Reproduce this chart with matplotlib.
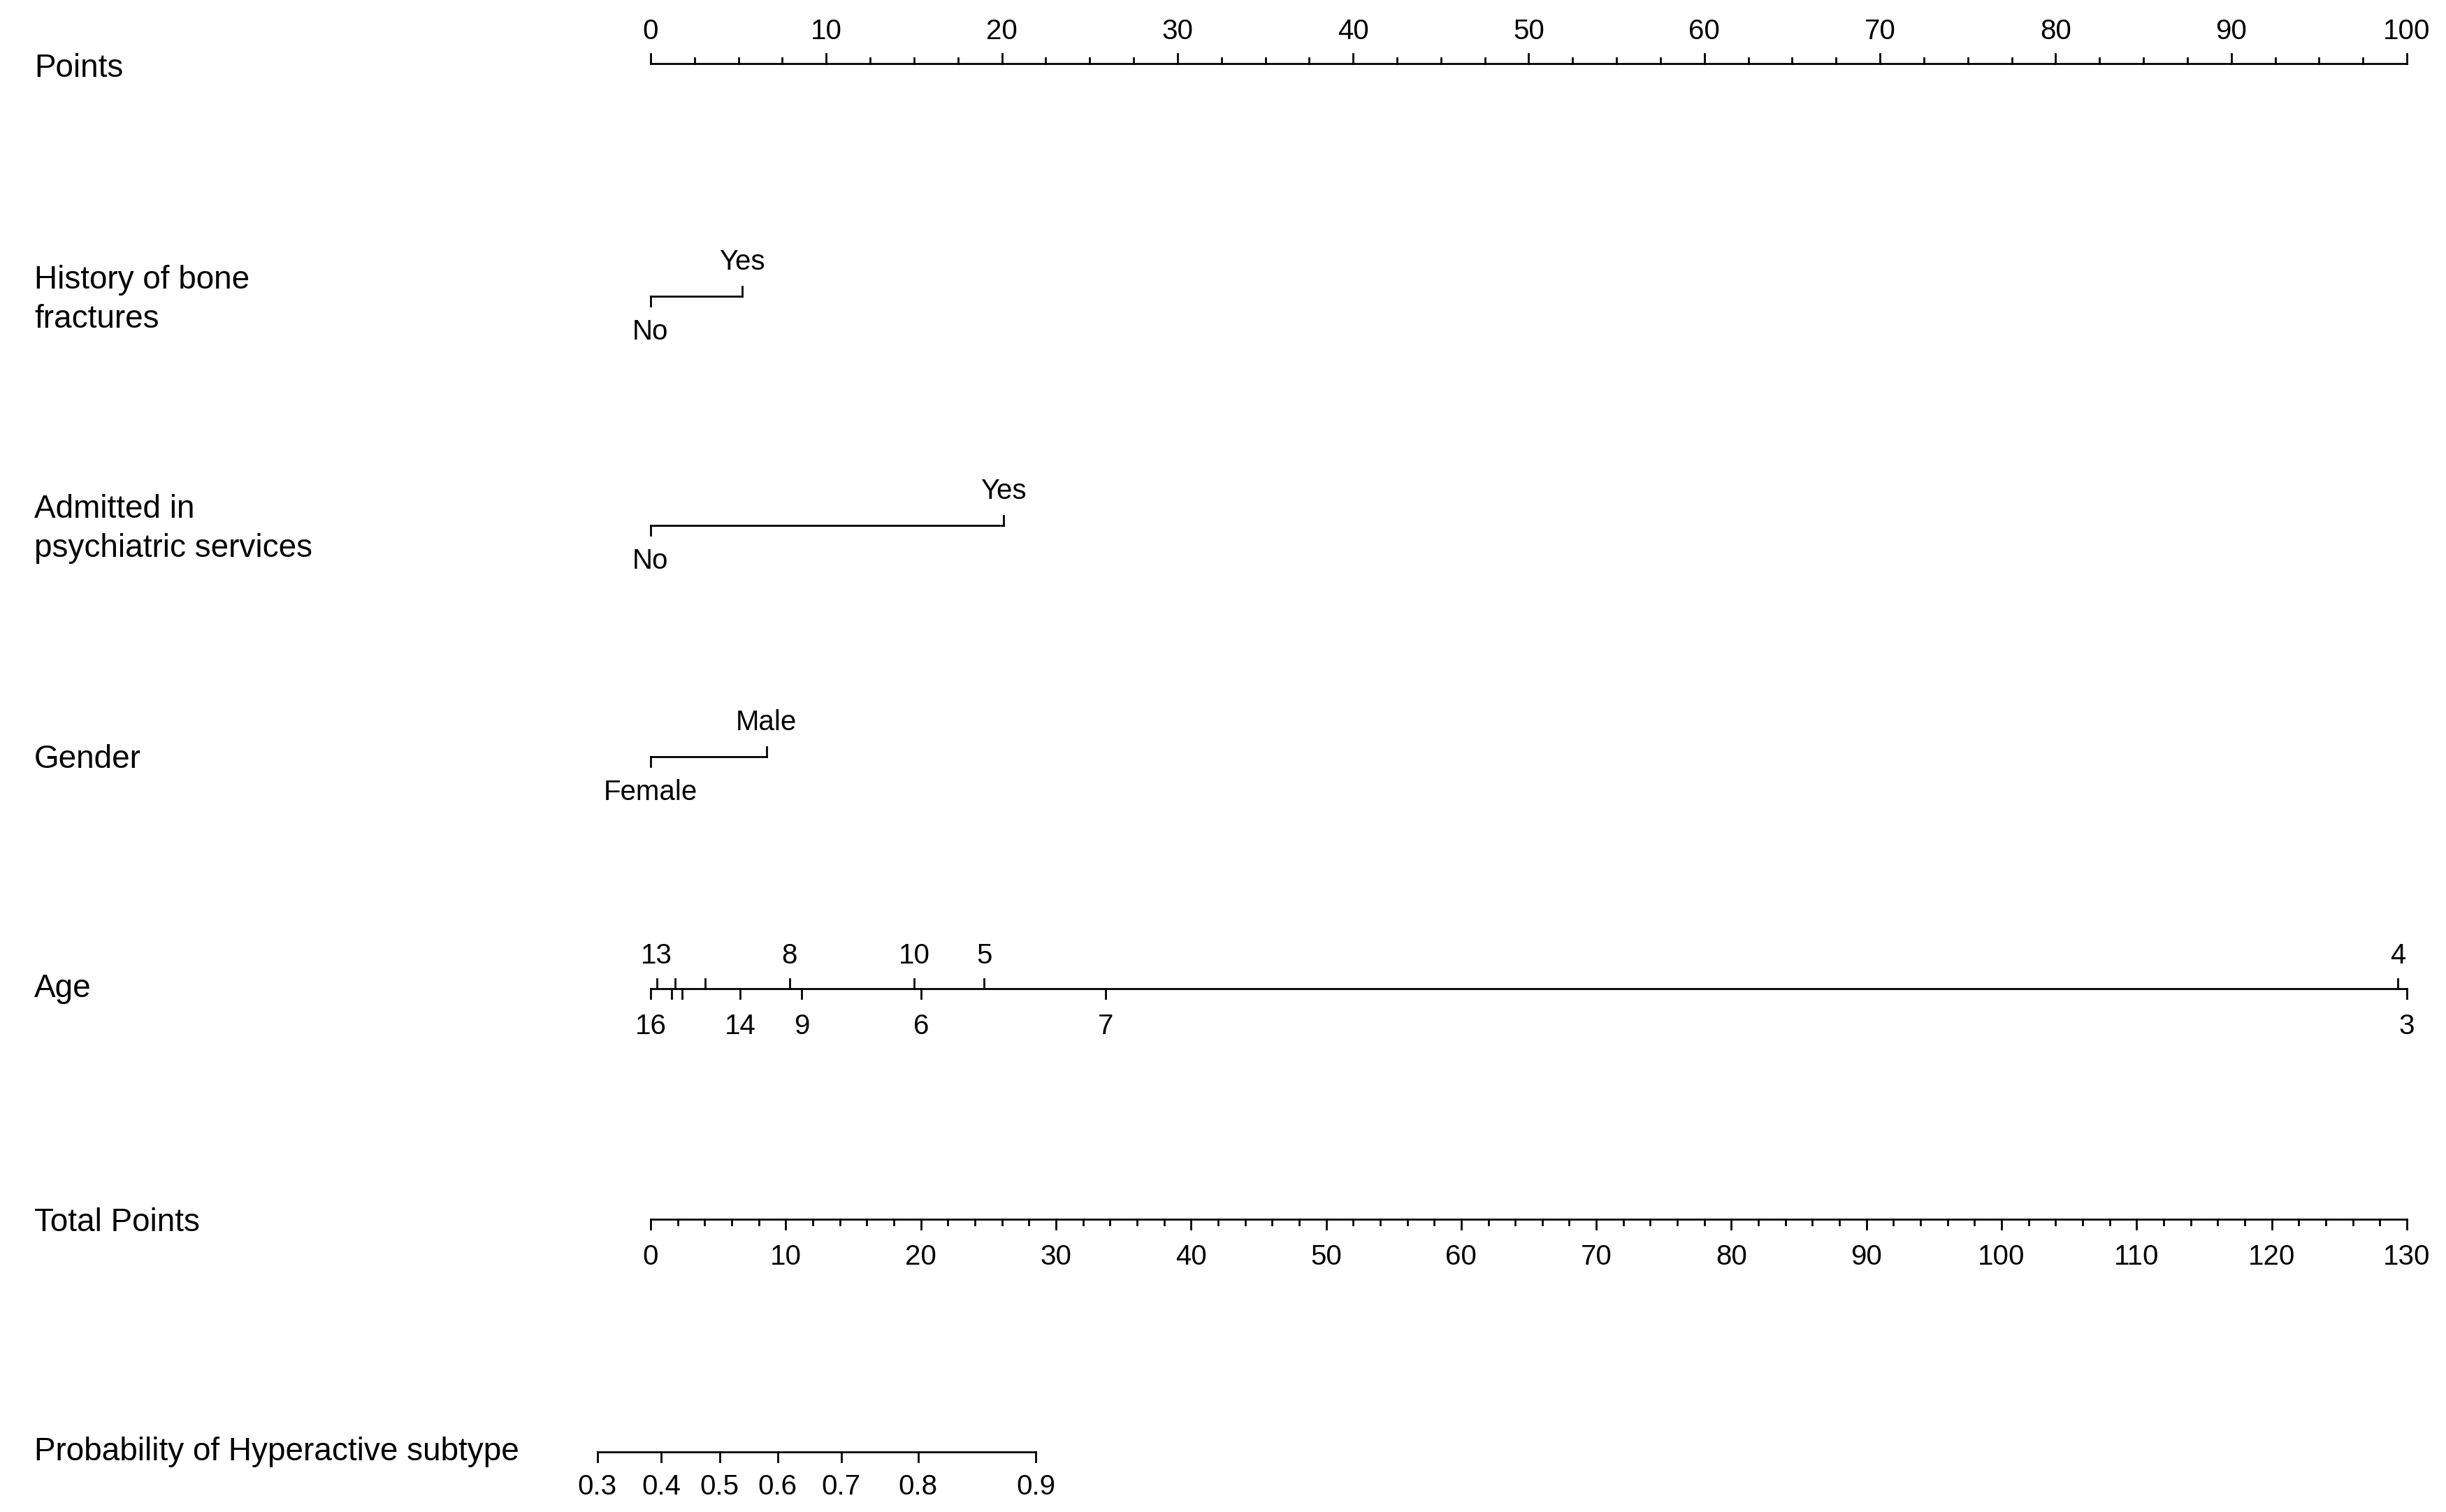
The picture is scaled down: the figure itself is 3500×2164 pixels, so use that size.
import numpy as np
import matplotlib.pyplot as plt

plt.rcParams['font.family'] = ['Liberation Sans', 'DejaVu Sans']

# nomogram content (positions in "Points" units 0-100)
row_labels = ['Points', 'History of bone\nfractures', 'Admitted in\npsychiatric services',
              'Gender', 'Age', 'Total Points', 'Probability of Hyperactive subtype']

bone_levels = ['No', 'Yes']
bone_points = [0, 5.2]
psych_levels = ['No', 'Yes']
psych_points = [0, 20.1]
gender_levels = ['Female', 'Male']
gender_points = [0, 6.6]

# age ticks above the line / below the line ('' = unlabeled tick)
age_top_labels = ['13', '', '', '8', '10', '5', '4']
age_top_points = [0.35, 1.4, 3.1, 7.9, 15.0, 19.0, 99.5]
age_bot_labels = ['16', '', '', '14', '9', '6', '7', '3']
age_bot_points = [0, 1.2, 1.8, 5.1, 8.6, 15.4, 25.9, 100]

total_max = 130
prob_labels = ['0.3', '0.4', '0.5', '0.6', '0.7', '0.8', '0.9']
prob_total = [-3.95, 0.8, 5.1, 9.4, 14.1, 19.8, 28.5]

# layout
W, H = 3500, 2164
x0, ppt = 931, 25.13  # pixel of 0 points, pixels per point
fig = plt.figure(figsize=(W / 100, H / 100), dpi=100)
ax = fig.add_axes([0, 0, 1, 1])
ax.set_xlim(-x0 / ppt, (W - x0) / ppt)
ax.set_ylim(H, 0)
ax.axis('off')

lw = 2.0
FS_LAB = 33
FS_TICK = 29
MAJ, MIN = 14, 8
row_y = [91, 424, 752, 1083, 1415, 1745, 2078]
label_y = [98, 429, 757, 1087, 1415, 1750, 2078]

for lab, y in zip(row_labels, label_y):
    ax.text(-x0 / ppt + 49 / ppt, y, lab, fontsize=FS_LAB, va='center', ha='left', linespacing=1.35)

# Points axis (ticks up)
y = row_y[0]
ax.plot([0, 100], [y, y], color='black', lw=lw)
for v in np.arange(0, 101, 2.5):
    major = v % 10 == 0
    ax.plot([v, v], [y, y - (MAJ if major else MIN)], color='black', lw=lw)
    if major:
        ax.text(v, y - 46, str(int(v)), fontsize=FS_TICK, ha='center', va='center')


def cat_axis(y, levels, pts):
    ax.plot([pts[0], pts[-1]], [y, y], color='black', lw=lw)
    # first level: tick down, label below; second: tick up, label above
    ax.plot([pts[0]] * 2, [y, y + MAJ], color='black', lw=lw)
    ax.text(pts[0], y + 51, levels[0], fontsize=FS_TICK, ha='center', va='center')
    ax.plot([pts[1]] * 2, [y, y - MAJ], color='black', lw=lw)
    ax.text(pts[1], y - 49, levels[1], fontsize=FS_TICK, ha='center', va='center')


cat_axis(row_y[1], bone_levels, bone_points)
cat_axis(row_y[2], psych_levels, psych_points)
cat_axis(row_y[3], gender_levels, gender_points)

# Age
y = row_y[4]
ax.plot([0, 100], [y, y], color='black', lw=lw)
for lab, p in zip(age_top_labels, age_top_points):
    ax.plot([p, p], [y, y - MAJ], color='black', lw=lw)
    if lab:
        ax.text(p, y - 47, lab, fontsize=FS_TICK, ha='center', va='center')
for lab, p in zip(age_bot_labels, age_bot_points):
    ax.plot([p, p], [y, y + MAJ], color='black', lw=lw)
    if lab:
        ax.text(p, y + 54, lab, fontsize=FS_TICK, ha='center', va='center')

# Total points (ticks down)
y = row_y[5]
sc = 100 / total_max
ax.plot([0, 100], [y, y], color='black', lw=lw)
for v in np.arange(0, total_max + 1, 2):
    major = v % 10 == 0
    ax.plot([v * sc] * 2, [y, y + (MAJ if major else MIN)], color='black', lw=lw)
    if major:
        ax.text(v * sc, y + 54, str(v), fontsize=FS_TICK, ha='center', va='center')

# Probability
y = row_y[6]
ps = [t * sc for t in prob_total]
ax.plot([ps[0], ps[-1]], [y, y], color='black', lw=lw)
for lab, p in zip(prob_labels, ps):
    ax.plot([p, p], [y, y + MAJ], color='black', lw=lw)
    ax.text(p, y + 50, lab, fontsize=FS_TICK, ha='center', va='center')

fig.savefig('out.png', dpi=100, facecolor='white')
